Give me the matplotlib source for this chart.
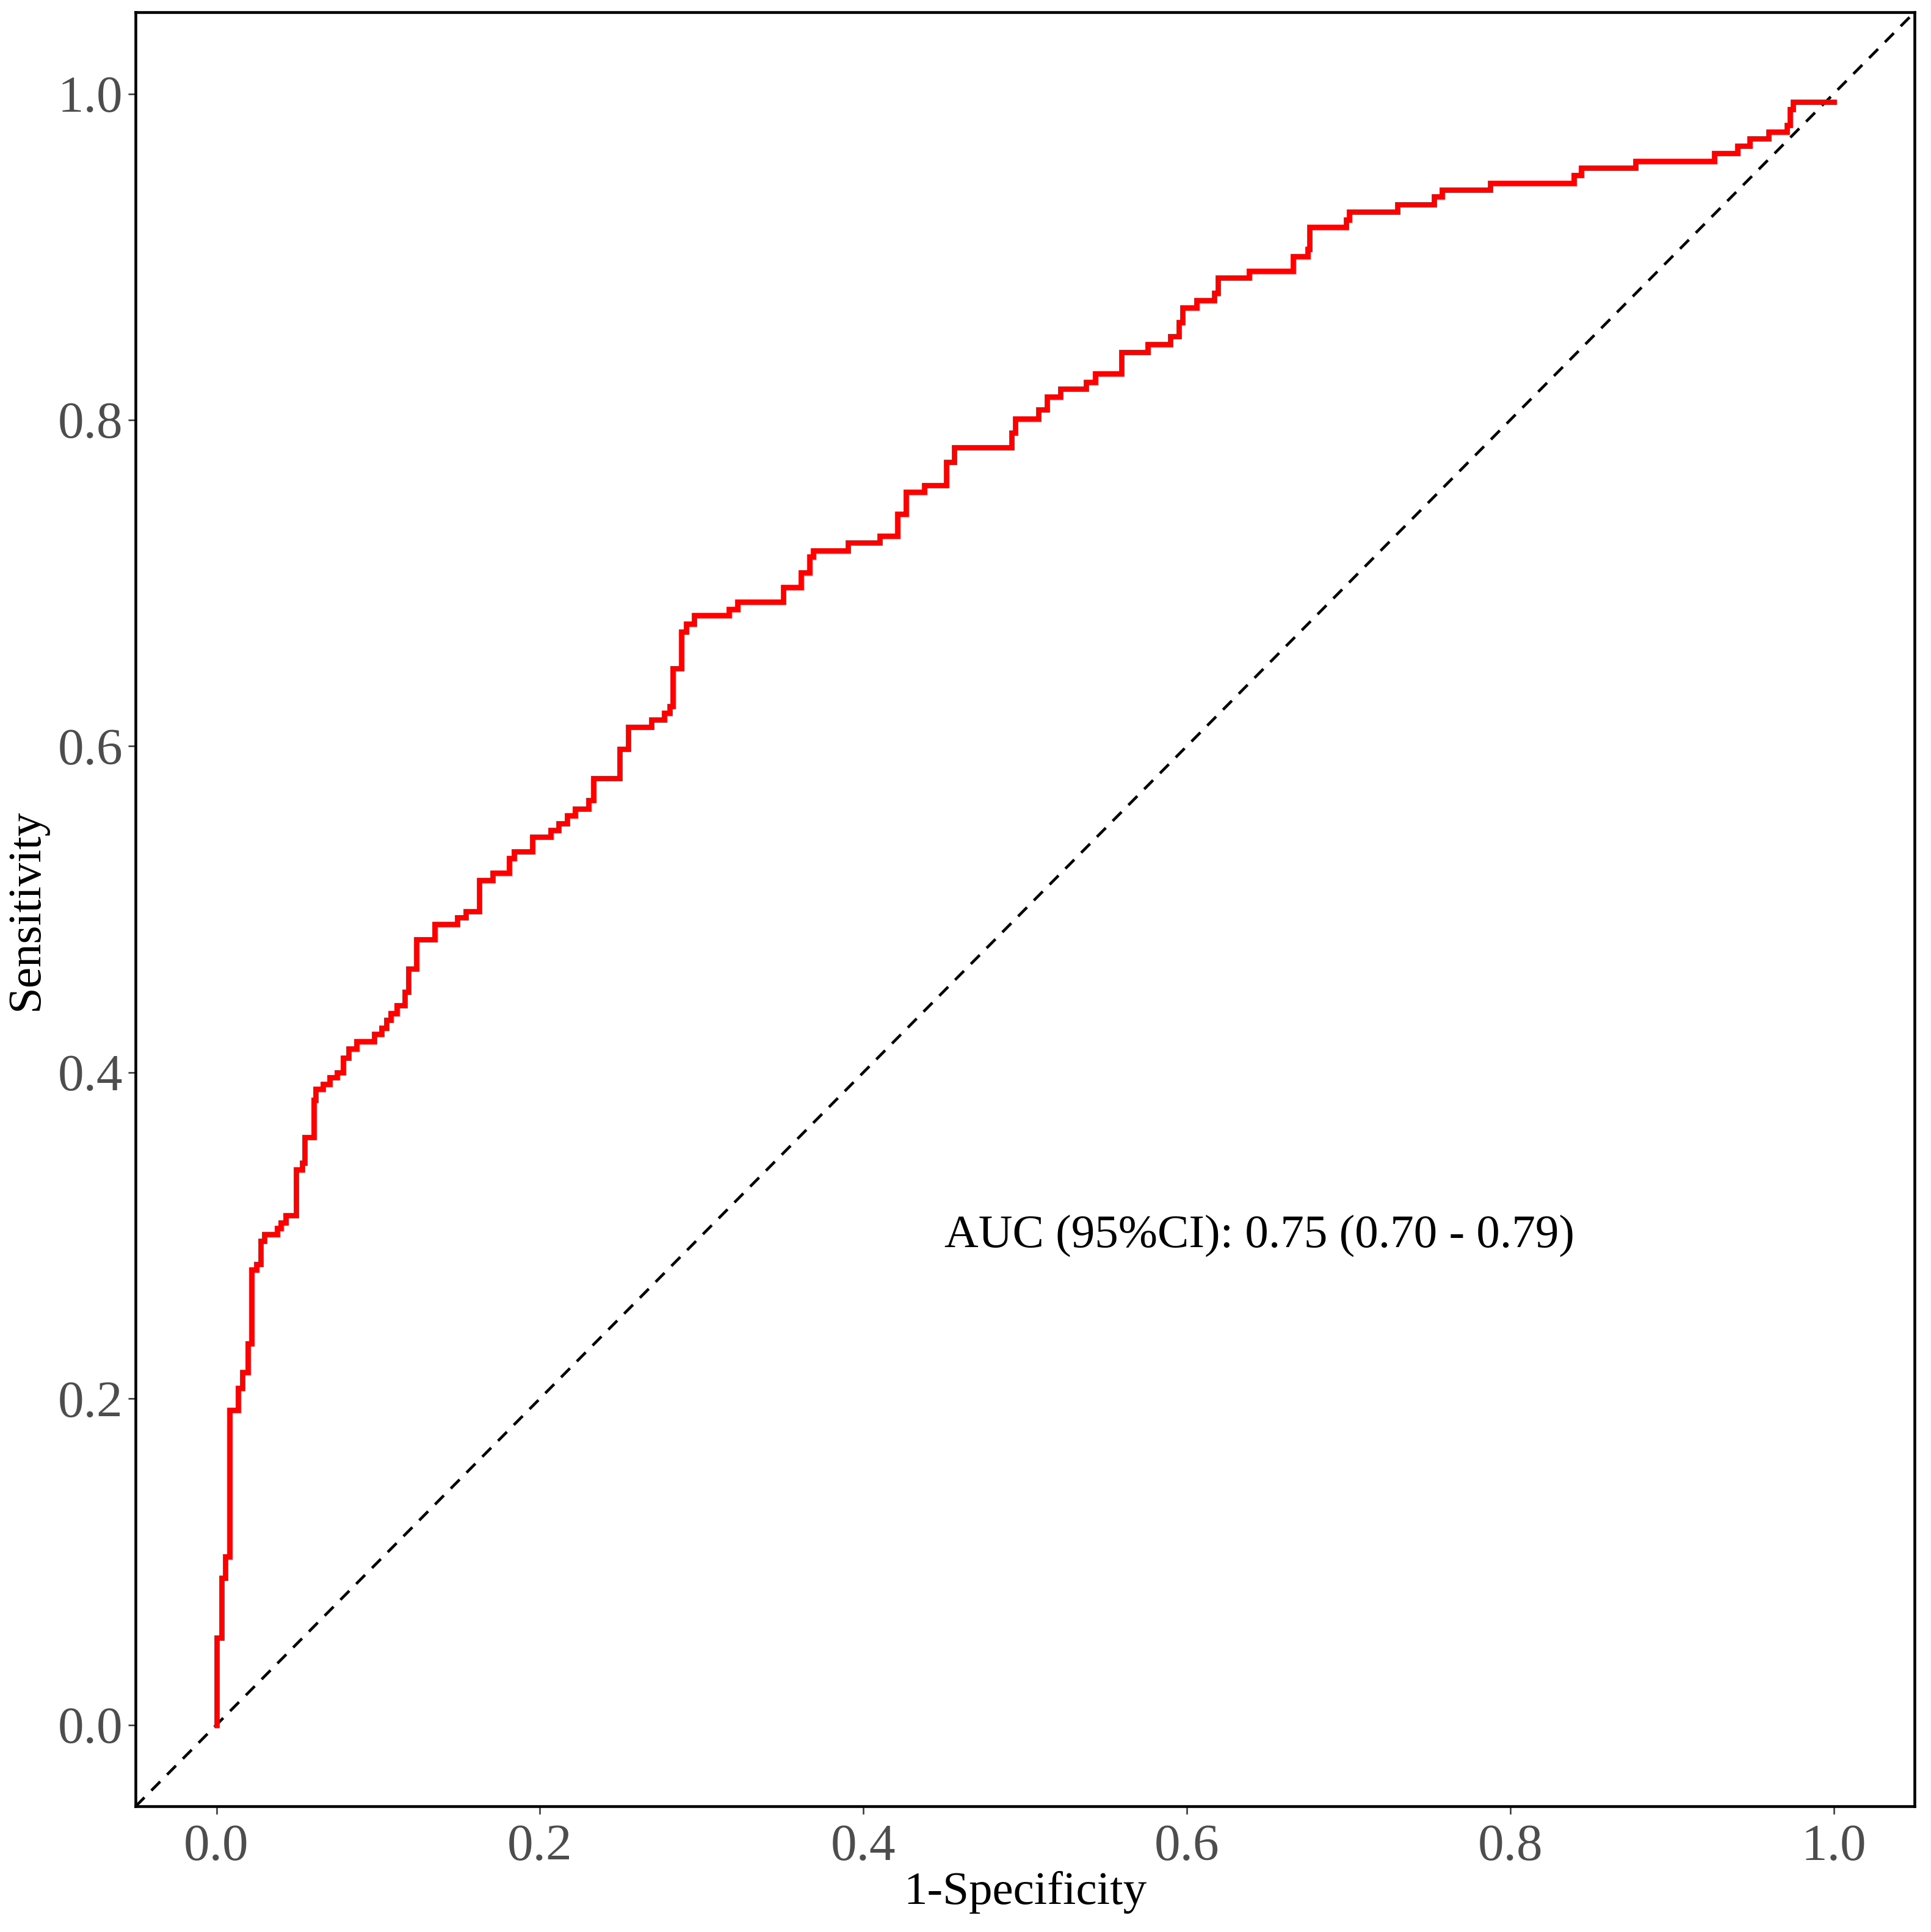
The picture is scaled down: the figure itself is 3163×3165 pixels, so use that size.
import matplotlib
matplotlib.use('Agg')
import matplotlib.pyplot as plt

# ROC curve corner points (1-specificity, sensitivity)
fpr = [0.0, 0.0, 0.0031, 0.0055, 0.0081, 0.0135, 0.0161, 0.0194, 0.0218, 0.0247,
       0.0273, 0.0298, 0.0377, 0.0399, 0.0428, 0.0493, 0.0529, 0.0546, 0.0601, 0.0615,
       0.0659, 0.0702, 0.0745, 0.0784, 0.0817, 0.0868, 0.0977, 0.1022, 0.1052, 0.1079,
       0.1114, 0.1165, 0.1186, 0.1236, 0.1349, 0.1488, 0.1543, 0.1625, 0.1707, 0.1809,
       0.1840, 0.1952, 0.2065, 0.2116, 0.2167, 0.2218, 0.2300, 0.2331, 0.2494, 0.2545,
       0.2688, 0.2770, 0.2801, 0.2821, 0.2873, 0.2903, 0.2954, 0.3169, 0.3220, 0.3506,
       0.3614, 0.3668, 0.3690, 0.3906, 0.4101, 0.4210, 0.4264, 0.4376, 0.4513, 0.4562,
       0.4918, 0.4939, 0.5082, 0.5134, 0.5217, 0.5379, 0.5433, 0.5595, 0.5758, 0.5898,
       0.5952, 0.5974, 0.6061, 0.6169, 0.6191, 0.6386, 0.6655, 0.6748, 0.6760, 0.6986,
       0.7005, 0.7303, 0.7528, 0.7577, 0.7877, 0.8395, 0.8440, 0.8776, 0.9261, 0.9406,
       0.9480, 0.9597, 0.9710, 0.9729, 0.9750, 1.0]
tpr = [0.0, 0.0535, 0.090, 0.103, 0.193, 0.2066, 0.216, 0.2336, 0.279, 0.2825,
       0.2968, 0.3008, 0.3045, 0.308, 0.3123, 0.3403, 0.3445, 0.3602, 0.383, 0.390,
       0.393, 0.397, 0.400, 0.4088, 0.4145, 0.4189, 0.4234, 0.4271, 0.4321, 0.4362,
       0.4412, 0.4493, 0.4635, 0.4817, 0.4908, 0.4949, 0.4989, 0.5177, 0.5222, 0.5313,
       0.5354, 0.5445, 0.5485, 0.5526, 0.5576, 0.5617, 0.5668, 0.5805, 0.5981, 0.6117,
       0.6164, 0.6203, 0.6245, 0.6478, 0.6700, 0.6751, 0.6801, 0.6838, 0.6883, 0.6975,
       0.7065, 0.7161, 0.7198, 0.7247, 0.7290, 0.7425, 0.7558, 0.7601, 0.7740, 0.7832,
       0.7922, 0.8008, 0.8062, 0.8141, 0.8190, 0.8233, 0.8283, 0.8415, 0.8463, 0.8512,
       0.8598, 0.8690, 0.8733, 0.8780, 0.8870, 0.8912, 0.9003, 0.9046, 0.9183, 0.9227,
       0.9277, 0.9320, 0.9370, 0.9411, 0.9451, 0.9501, 0.9544, 0.9588, 0.9634, 0.9681,
       0.9725, 0.9768, 0.9806, 0.9905, 0.9949, 0.9949]

ticks = [0.0, 0.2, 0.4, 0.6, 0.8, 1.0]
tick_labels = ['0.0', '0.2', '0.4', '0.6', '0.8', '1.0']
auc_text = 'AUC (95%CI): 0.75 (0.70 - 0.79)'

plt.rcParams['font.family'] = ['Liberation Serif', 'DejaVu Serif']

fig = plt.figure(figsize=(3163 / 300, 3165 / 300), dpi=300)
ax = fig.add_axes([0.0702, 0.0650, 0.9213, 0.9287])

ax.plot(fpr, tpr, drawstyle='steps-post', color='#FF0000', lw=2.1,
        solid_joinstyle='miter', zorder=3)
ax.axline((0, 0), (1, 1), color='black', lw=1.1, linestyle=(0, (4.5, 3.5)), zorder=2)

ax.text(0.645, 0.30, auc_text, ha='center', va='center', fontsize=18.5, color='black')

ax.set_xlim(-0.05, 1.05)
ax.set_ylim(-0.05, 1.05)
ax.set_xticks(ticks)
ax.set_xticklabels(tick_labels)
ax.set_yticks(ticks)
ax.set_yticklabels(tick_labels)
ax.tick_params(axis='both', labelsize=20.5, labelcolor='#4D4D4D', color='#333333',
               length=3, width=0.6, direction='out')
ax.tick_params(axis='x', pad=4)
ax.tick_params(axis='y', pad=2)

for s in ax.spines.values():
    s.set_linewidth(1.1)
    s.set_color('black')

ax.set_xlabel('1-Specificity', fontsize=18.5, color='black', labelpad=0)
ax.set_ylabel('Sensitivity', fontsize=18.5, color='black', labelpad=4)

fig.savefig('out.png', dpi=300, facecolor='white')
